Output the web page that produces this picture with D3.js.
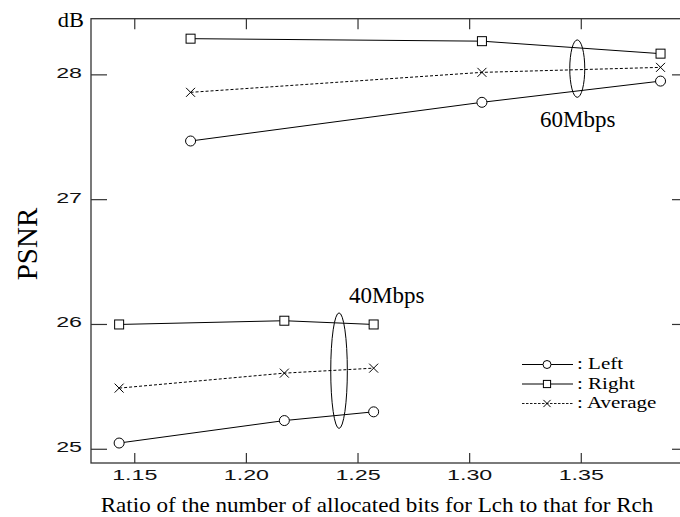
<!DOCTYPE html>
<html>
<head>
<meta charset="utf-8">
<script src="https://cdn.jsdelivr.net/npm/d3@7"></script>
<style>
  html, body { margin: 0; padding: 0; background: #fff; }
  svg { display: block; }
</style>
</head>
<body>
<svg id="chart" width="680" height="517"></svg>
<script>
// PSNR of left / right / average channel vs. bit allocation ratio, at two bitrates
const ratio60 = [1.175, 1.3055, 1.3855];
const left60 = [27.47, 27.78, 27.95];
const right60 = [28.29, 28.27, 28.17];
const avg60 = [27.86, 28.02, 28.06];

const ratio40 = [1.143, 1.217, 1.257];
const left40 = [25.05, 25.23, 25.30];
const right40 = [26.00, 26.03, 26.00];
const avg40 = [25.49, 25.61, 25.65];

const xTicks = [1.15, 1.20, 1.25, 1.30, 1.35];
const xTickLabels = ["1.15", "1.20", "1.25", "1.30", "1.35"];
const yTicks = [25, 26, 27, 28];
const yTickLabels = ["25", "26", "27", "28"];

const groupLabels = ["60Mbps", "40Mbps"];
const legendLabels = [": Left", ": Right", ": Average"];

const svg = d3.select("#chart");
const X0 = 91, X1 = 688, Y0 = 18.7, Y1 = 463;
const x = d3.scaleLinear().domain([1.1304, 1.3978]).range([X0, X1]);
const y = d3.scaleLinear().domain([24.89, 28.45]).range([Y1, Y0]);

const frameColor = "#333";
const serif = "'Liberation Serif', 'Times New Roman', serif";
const sans = "'Liberation Sans', Arial, sans-serif";

// text helper: horizontally widened glyphs
function wideText(tx, ty, sx, txt, opts) {
  return svg.append("text")
    .attr("transform", `translate(${tx},${ty}) scale(${sx},1)`)
    .attr("text-anchor", opts.anchor || "start")
    .attr("font-family", opts.family)
    .attr("font-size", opts.size)
    .attr("fill", opts.fill || "#000")
    .text(txt);
}

// frame
svg.append("rect")
  .attr("x", X0).attr("y", Y0).attr("width", X1 - X0).attr("height", Y1 - Y0)
  .attr("fill", "none").attr("stroke", frameColor).attr("stroke-width", 1.3);

// inward ticks on all four sides
const tickG = svg.append("g").attr("stroke", frameColor).attr("stroke-width", 1.2);
xTicks.forEach(v => {
  tickG.append("line").attr("x1", x(v)).attr("x2", x(v)).attr("y1", Y1).attr("y2", Y1 - 10);
  tickG.append("line").attr("x1", x(v)).attr("x2", x(v)).attr("y1", Y0).attr("y2", Y0 + 10.5);
});
yTicks.forEach(v => {
  tickG.append("line").attr("x1", X0).attr("x2", X0 + 16).attr("y1", y(v)).attr("y2", y(v));
  tickG.append("line").attr("x1", X1).attr("x2", X1 - 16).attr("y1", y(v)).attr("y2", y(v));
});

// tick labels (wide sans digits)
const sx = 1.5;
xTicks.forEach((v, i) => {
  wideText(x(v), 479.5, sx, xTickLabels[i], { anchor: "middle", family: sans, size: 15.5, fill: "#111" });
});
yTicks.forEach((v, i) => {
  wideText(82, y(v) + 3, sx, yTickLabels[i], { anchor: "end", family: sans, size: 15.5, fill: "#111" });
});

// unit and axis titles
wideText(84, 26.7, 1.12, "dB", { anchor: "end", family: serif, size: 20 });
svg.append("text")
  .attr("transform", "translate(36.5,244) rotate(-90)")
  .attr("text-anchor", "middle")
  .attr("font-family", serif).attr("font-size", 29).text("PSNR");
wideText(377, 511.5, 1.1, "Ratio of the number of allocated bits for Lch to that for Rch",
  { anchor: "middle", family: serif, size: 21 });

// series
const line = d3.line().x(d => x(d[0])).y(d => y(d[1]));
const series = [
  { xs: ratio60, ys: right60, m: "square", dash: null },
  { xs: ratio60, ys: avg60, m: "cross", dash: "3,2" },
  { xs: ratio60, ys: left60, m: "circle", dash: null },
  { xs: ratio40, ys: right40, m: "square", dash: null },
  { xs: ratio40, ys: avg40, m: "cross", dash: "3,2" },
  { xs: ratio40, ys: left40, m: "circle", dash: null }
];

function marker(g, m, cx, cy, s) {
  if (m === "circle") {
    g.append("circle").attr("cx", cx).attr("cy", cy).attr("r", 5 * s)
      .attr("fill", "#fff").attr("stroke", "#000").attr("stroke-width", 1);
  } else if (m === "square") {
    const h = 4.5 * s;
    g.append("rect").attr("x", cx - h).attr("y", cy - h).attr("width", 2 * h).attr("height", 2 * h)
      .attr("fill", "#fff").attr("stroke", "#000").attr("stroke-width", 1);
  } else {
    const h = 4.5 * s;
    g.append("path").attr("d", `M${cx - h},${cy - h}L${cx + h},${cy + h}M${cx - h},${cy + h}L${cx + h},${cy - h}`)
      .attr("stroke", "#000").attr("stroke-width", 1).attr("fill", "none");
  }
}

const plot = svg.append("g");
series.forEach(s => {
  const pts = s.xs.map((v, i) => [v, s.ys[i]]);
  plot.append("path").attr("d", line(pts)).attr("fill", "none")
    .attr("stroke", "#000").attr("stroke-width", 1)
    .attr("stroke-dasharray", s.dash);
});
series.forEach(s => {
  s.xs.forEach((v, i) => marker(plot, s.m, x(v), y(s.ys[i]), 1));
});

// group ellipses and bitrate labels
const ellipses = [
  { cx: 1.3482, cy: 28.05, rx: 7.5, half: 0.23 },
  { cx: 1.2415, cy: 25.63, rx: 8.3, half: 0.463 }
];
ellipses.forEach(e => {
  svg.append("ellipse").attr("cx", x(e.cx)).attr("cy", y(e.cy))
    .attr("rx", e.rx).attr("ry", y(e.cy - e.half) - y(e.cy))
    .attr("fill", "none").attr("stroke", "#000").attr("stroke-width", 1);
});
const labelPos = [[1.3315, 27.58], [1.246, 26.17]];
groupLabels.forEach((t, i) => {
  svg.append("text").attr("x", x(labelPos[i][0])).attr("y", y(labelPos[i][1]))
    .attr("font-family", serif).attr("font-size", 23).text(t);
});

// legend
const legendMarks = ["circle", "square", "cross"];
const legendRows = [369, 388.5, 408];
legendLabels.forEach((t, i) => {
  const cy = legendRows[i] - 4.5;
  const g = svg.append("g");
  g.append("line").attr("x1", 522).attr("x2", 573).attr("y1", cy).attr("y2", cy)
    .attr("stroke", "#000").attr("stroke-width", i === 2 ? 0.9 : 1)
    .attr("stroke-dasharray", i === 2 ? "2.5,1.5" : null);
  marker(g, legendMarks[i], 547, cy, 0.8);
  wideText(577, legendRows[i], 1.2, t, { family: serif, size: 17.5 });
});
</script>
</body>
</html>
